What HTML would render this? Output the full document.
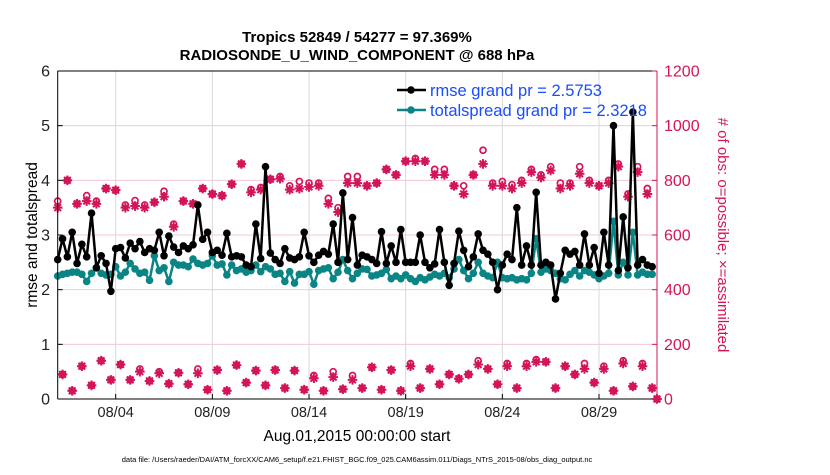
<!DOCTYPE html>
<html><head><meta charset="utf-8"><style>
body{margin:0;background:#fff;}
svg text{font-family:"Liberation Sans",sans-serif;}
</style></head><body>
<svg id="chart" width="830" height="470" xmlns="http://www.w3.org/2000/svg">
<rect width="830" height="470" fill="#fff"/>
<g id="grid"></g>
<g id="obs"></g>
<g id="lines"></g>
<g id="axes"></g>
<text x="357" y="42" font-size="15" font-weight="bold" text-anchor="middle">Tropics 52849 / 54277 = 97.369%</text>
<text x="357" y="60" font-size="15" font-weight="bold" text-anchor="middle">RADIOSONDE_U_WIND_COMPONENT @ 688 hPa</text>
<text transform="translate(37,235) rotate(-90)" font-size="15.5" text-anchor="middle">rmse and totalspread</text>
<text transform="translate(718,235) rotate(90)" font-size="15" fill="#d4145a" text-anchor="middle"># of obs: o=possible; ×=assimilated</text>
<text x="357" y="441" font-size="15.5" text-anchor="middle">Aug.01,2015 00:00:00 start</text>
<text x="357" y="462" font-size="7.5" text-anchor="middle">data file: /Users/raeder/DAI/ATM_forcXX/CAM6_setup/f.e21.FHIST_BGC.f09_025.CAM6assim.011/Diags_NTrS_2015-08/obs_diag_output.nc</text>
<g>
<line x1="397" y1="90" x2="426" y2="90" stroke="#000" stroke-width="2.5"/>
<circle cx="411" cy="90" r="3.8" fill="#000"/>
<text x="430" y="96" font-size="16.5" fill="#1a4cff">rmse grand pr = 2.5753</text>
<line x1="397" y1="110" x2="426" y2="110" stroke="#0a8585" stroke-width="2.5"/>
<circle cx="411" cy="110" r="3.8" fill="#0a8585"/>
<text x="430" y="116" font-size="16.5" fill="#1a4cff">totalspread grand pr = 2.3218</text>
</g>
</svg>
<script>
const xTickLabels=["08/04","08/09","08/14","08/19","08/24","08/29"];
const xTickDays=[3,8,13,18,23,28];
const yTickLabels=["0","1","2","3","4","5","6"];
const rightTickLabels=["0","200","400","600","800","1000","1200"];
const rmse=[2.55,2.93,2.6,3.05,2.48,2.83,2.6,3.4,2.4,2.62,2.48,1.97,2.75,2.77,2.58,2.85,2.75,2.88,2.68,2.75,2.72,3.05,2.62,2.98,2.78,2.68,2.8,2.75,2.82,3.55,2.92,3.05,2.68,2.72,2.63,3.03,2.6,2.62,2.6,2.45,2.42,3.2,2.57,4.25,2.67,2.55,2.48,2.75,2.58,2.55,2.6,3.05,2.62,2.5,2.63,2.7,2.65,3.2,2.5,3.77,2.55,3.32,2.45,
2.63,2.6,2.55,2.48,3.06,2.48,2.8,2.5,3.1,2.5,2.5,2.5,3.0,2.5,2.4,2.47,3.1,2.5,2.08,2.48,3.07,2.72,2.42,2.6,3.02,2.72,2.65,2.5,2.0,2.45,2.65,2.55,3.5,2.45,2.8,2.45,3.78,2.45,2.5,2.45,1.83,2.3,2.72,2.65,2.7,2.45,3.02,2.45,2.77,2.3,3.05,2.45,5.0,2.35,3.33,2.4,5.25,2.45,2.55,2.45,2.42];
const spread=[2.25,2.28,2.3,2.32,2.32,2.28,2.15,2.3,2.4,2.3,2.27,2.28,2.42,2.25,2.32,2.48,2.38,2.3,2.32,2.17,2.62,2.35,2.4,2.15,2.5,2.45,2.45,2.42,2.56,2.48,2.45,2.48,2.62,2.45,2.47,2.27,2.45,2.35,2.38,2.32,2.35,2.45,2.33,2.42,2.38,2.28,2.3,2.15,2.33,2.12,2.28,2.28,2.33,2.1,2.35,2.38,2.4,2.2,2.32,2.55,2.35,2.2,2.3,
2.38,2.37,2.25,2.27,2.3,2.37,2.2,2.25,2.2,2.27,2.2,2.15,2.22,2.18,2.23,2.28,2.25,2.3,2.22,2.38,2.55,2.35,2.2,2.3,2.5,2.3,2.25,2.22,2.5,2.22,2.2,2.22,2.18,2.2,2.18,2.3,2.93,2.32,2.38,2.35,2.3,2.2,2.18,2.28,2.35,2.25,2.35,2.32,2.27,2.2,2.25,2.3,3.25,2.27,2.5,2.27,3.05,2.27,2.32,2.28,2.28];
const upperPossible=[724,800,714,744,724,770,764,710,726,710,720,760,640,724,714,770,750,744,786,860,766,774,804,814,780,796,790,790,734,700,814,814,780,790,840,820,870,880,870,840,840,780,780,820,910,790,796,784,800,840,820,850,790,790,850,800,780,800,860,750,850,770,0];
const upperAssim=[700,800,714,724,714,770,764,700,706,700,720,740,630,724,714,770,750,744,786,860,756,766,804,806,766,770,776,780,714,684,790,790,780,790,840,820,870,870,870,820,820,780,750,820,860,780,780,770,790,830,810,836,770,780,824,790,780,790,850,740,830,750,0];
const lowerPossible=[90,30,120,50,140,70,126,70,110,66,100,56,96,54,110,34,106,30,124,60,104,50,106,40,104,34,86,30,100,36,86,40,116,34,106,30,130,40,110,54,90,74,90,140,110,54,130,40,130,144,136,40,120,90,130,60,120,30,140,46,130,40];
const lowerAssim=[90,30,120,50,140,70,126,70,100,66,94,56,96,54,94,34,106,30,124,60,104,50,106,40,104,34,76,30,80,36,70,40,116,34,106,30,120,40,110,54,90,74,90,126,110,54,120,40,120,136,136,40,120,90,110,60,110,30,130,46,120,40];

const NS="http://www.w3.org/2000/svg";
const L=57.7,R=657,T=71,B=399,DAYS=31;
const xDay=d=>L+(R-L)*d/DAYS;
const xIdx=i=>xDay(i*0.25);
const yL=v=>B-(B-T)*v/6;
const yR=v=>B-(B-T)*v/1200;
const PINK="#d4145a";
function mk(tag,attrs,parent){const e=document.createElementNS(NS,tag);for(const k in attrs)e.setAttribute(k,attrs[k]);parent.appendChild(e);return e;}
const grid=document.getElementById('grid'),axes=document.getElementById('axes'),obsG=document.getElementById('obs'),linesG=document.getElementById('lines');
yTickLabels.forEach((t,i)=>{if(i>0&&i<6){const g=mk('line',{x1:L,x2:R,y1:yL(i),y2:yL(i),stroke:"#f3c8d8","stroke-width":1},grid);

}});
xTickDays.forEach((d,i)=>{const g=mk('line',{x1:xDay(d),x2:xDay(d),y1:T,y2:B,stroke:"#d8d8d8","stroke-width":1},grid);


const t=mk('text',{x:xDay(d),y:417,"font-size":14.5,"text-anchor":"middle",fill:"#222"},axes);t.textContent=xTickLabels[i];


mk('line',{x1:xDay(d),x2:xDay(d),y1:B,y2:B-5,stroke:"#000"},axes);});
const obsPoss=[],obsAssim=[];
for(let i=0;i<125;i++){if(i%2===0){obsPoss.push(upperPossible[i/2]);obsAssim.push(upperAssim[i/2]);}else{obsPoss.push(lowerPossible[(i-1)/2]);obsAssim.push(lowerAssim[(i-1)/2]);}}
obsPoss.forEach((v,i)=>{const c=mk('circle',{cx:xIdx(i),cy:yR(v),r:3,fill:"none",stroke:PINK,"stroke-width":1.7},obsG);

});
obsAssim.forEach((v,i)=>{const x=xIdx(i),y=yR(v),s=4.8;const g=mk('path',{d:`M${x-s} ${y}H${x+s}M${x} ${y-s}V${y+s}M${x-s*.7} ${y-s*.7}L${x+s*.7} ${y+s*.7}M${x-s*.7} ${y+s*.7}L${x+s*.7} ${y-s*.7}`,stroke:PINK,"stroke-width":2},obsG);

});
function series(arr,color,name){const p=mk('polyline',{points:arr.map((v,i)=>xIdx(i)+","+yL(v)).join(" "),fill:"none",stroke:color,"stroke-width":2.5,"stroke-linejoin":"round"},linesG);


arr.forEach((v,i)=>{const c=mk('circle',{cx:xIdx(i),cy:yL(v),r:3.8,fill:color},linesG);

});}
series(spread,"#0a8585","totalspread");
series(rmse,"#000","rmse");
mk('line',{x1:L,x2:L,y1:T,y2:B,stroke:"#000"},axes);
mk('line',{x1:L,x2:R,y1:B,y2:B,stroke:"#000"},axes);
mk('line',{x1:L,x2:R,y1:T,y2:T,stroke:"#000"},axes);
mk('line',{x1:R,x2:R,y1:T,y2:B,stroke:PINK},axes);
yTickLabels.forEach((t,i)=>{const y=yL(i);mk('line',{x1:L,x2:L+5,y1:y,y2:y,stroke:"#000"},axes);
const e=mk('text',{x:50,y:y+5.5,"font-size":16,"text-anchor":"end",fill:"#222"},axes);e.textContent=t;

});
rightTickLabels.forEach((t,i)=>{const y=yR(+t);mk('line',{x1:R-5,x2:R,y1:y,y2:y,stroke:PINK},axes);
const e=mk('text',{x:664,y:y+5.5,"font-size":16,fill:PINK},axes);e.textContent=t;

});
</script>
</body></html>
